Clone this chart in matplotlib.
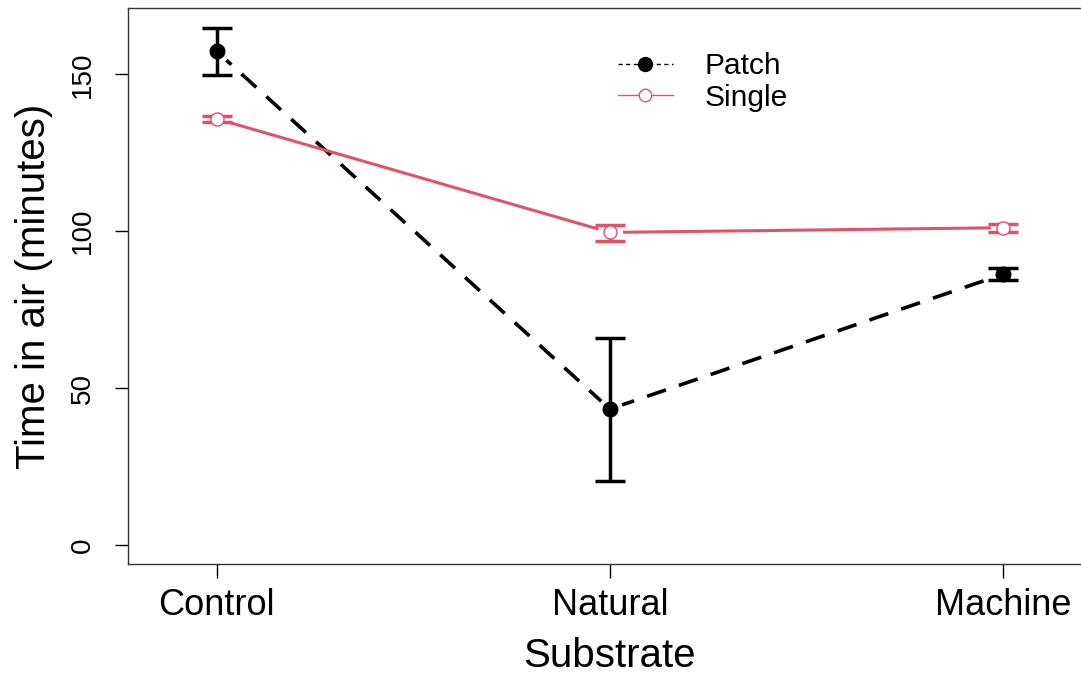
import numpy as np
import matplotlib
matplotlib.use("Agg")
import matplotlib.pyplot as plt
from matplotlib.lines import Line2D

plt.rcParams['font.family'] = ['Liberation Sans', 'DejaVu Sans']

substrates = ["Control", "Natural", "Machine"]
patch_mean = [157.3, 43.3, 86.3]
patch_lo = [149.8, 20.4, 84.4]
patch_hi = [164.7, 65.9, 88.2]
single_mean = [135.8, 99.6, 101.1]
single_lo = [134.9, 97.0, 99.6]
single_hi = [136.7, 102.0, 102.3]

pink = "#DF536B"
x = np.arange(1, len(substrates) + 1)

fig = plt.figure(figsize=(10.81, 6.75), dpi=100)
ax = fig.add_axes([0.1184, 0.164, 0.8916, 0.8241])

# lines (R type "b": gaps around the points)
ax.plot(x, patch_mean, color="black", lw=2.6, linestyle=(0, (5.5, 3.8)), zorder=1)
ax.plot(x, single_mean, color=pink, lw=2.2, zorder=1)
ax.plot(x, patch_mean, "o", color="white", ms=17, zorder=2)
ax.plot(x, single_mean, "o", color="white", ms=17, zorder=2)

# error bars
p_err = [np.array(patch_mean) - np.array(patch_lo), np.array(patch_hi) - np.array(patch_mean)]
s_err = [np.array(single_mean) - np.array(single_lo), np.array(single_hi) - np.array(single_mean)]
ax.errorbar(x, patch_mean, yerr=p_err, fmt="none", ecolor="black", elinewidth=2.5,
            capsize=10.8, capthick=2.5, zorder=3)
ax.errorbar(x, single_mean, yerr=s_err, fmt="none", ecolor=pink, elinewidth=2.5,
            capsize=10.8, capthick=2.5, zorder=3)

# points
ax.plot(x, patch_mean, "o", color="black", ms=10.5, zorder=4)
ax.plot(x, single_mean, "o", mfc="white", mec=pink, mew=1.0, ms=9.4, zorder=4)

ax.set_xlim(0.7744, 3.2256)
ax.set_ylim(-6.15, 171.1)
ax.set_xticks(x)
ax.set_xticklabels(substrates, fontsize=26)
ax.set_yticks([0, 50, 100, 150])
ax.set_yticklabels(["0", "50", "100", "150"], fontsize=20, rotation=90, va="center")
ax.tick_params(axis="x", length=10, width=1, pad=7)
ax.tick_params(axis="y", length=9.4, width=1, pad=14)
for s in ax.spines.values():
    s.set_linewidth(1)
    s.set_color("#333333")

ax.set_xlabel("Substrate", fontsize=29, labelpad=10)
ax.set_ylabel("Time in air (minutes)", fontsize=29, labelpad=12)

handles = [
    Line2D([], [], color="black", lw=1, linestyle=(0, (3, 2.5)), marker="o", ms=10, mfc="black"),
    Line2D([], [], color=pink, lw=1, marker="o", ms=9, mfc="white", mec=pink, mew=1),
]
ax.legend(handles, ["Patch", "Single"], loc="upper left", bbox_to_anchor=(0.508, 0.921),
          frameon=False, fontsize=21.5, handlelength=1.85, handletextpad=1.05,
          labelspacing=0.12, borderpad=0, borderaxespad=0)

fig.savefig("out.png", dpi=100)
